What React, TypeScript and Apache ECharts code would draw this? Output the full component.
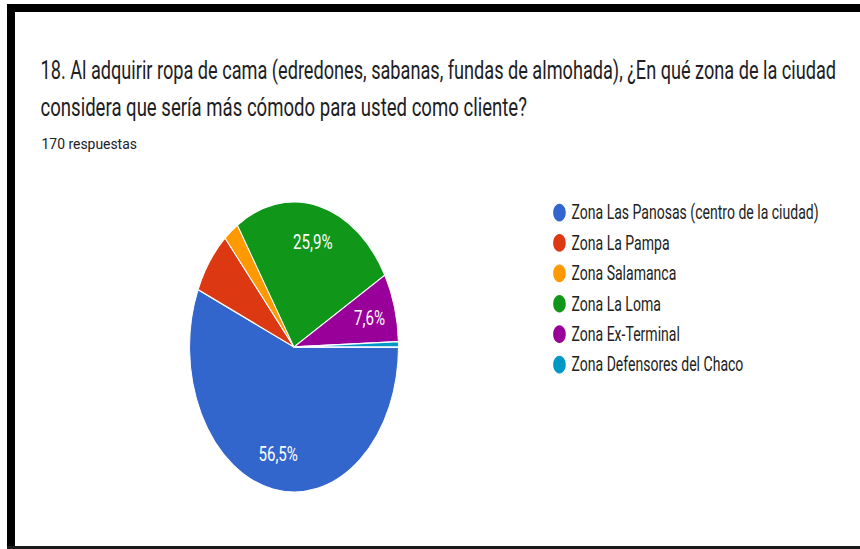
import React, { useEffect, useRef } from 'react';
import * as echarts from 'echarts';

const categories = [
  'Zona Las Panosas (centro de la ciudad)',
  'Zona La Pampa',
  'Zona Salamanca',
  'Zona La Loma',
  'Zona Ex-Terminal',
  'Zona Defensores del Chaco',
];
const responses = [96, 12, 4, 44, 13, 1];
const sliceColors = ['#3366CC', '#DC3912', '#FF9900', '#109618', '#990099', '#0099C6'];
const labelledSlices = ['Zona Las Panosas (centro de la ciudad)', 'Zona La Loma', 'Zona Ex-Terminal'];
const titleLines = [
  '18. Al adquirir ropa de cama (edredones, sabanas, fundas de almohada), ¿En qué zona de la ciudad',
  'considera que sería más cómodo para usted como cliente?',
];
const subtitle = '170 respuestas';

const W = 860;
const H = 549;
const PW = 1194;
const S = W / PW; // horizontal squeeze of the whole picture

function measure(text: string, font: string): number {
  const ctx = document.createElement('canvas').getContext('2d');
  if (!ctx) return text.length * 10;
  ctx.font = font;
  return ctx.measureText(text).width;
}

function squeezedText(text: string, x: number, y: number, size: number, targetWidth: number, fill: string) {
  const natural = measure(text, `${size}px Roboto`);
  const kEff = targetWidth / natural;
  return {
    type: 'text',
    x: x / S,
    y,
    scaleX: kEff / S,
    scaleY: 1,
    style: {
      text,
      fontSize: size,
      fontFamily: 'Roboto',
      fill,
      align: 'left',
      verticalAlign: 'middle',
    },
  };
}

export default function App() {
  const ref = useRef<HTMLDivElement>(null);

  useEffect(() => {
    if (!ref.current) return;
    const chart = echarts.init(ref.current, null, { renderer: 'svg' });
    const pieData = categories.map((name, i) => ({
      name,
      value: responses[i],
      itemStyle: { color: sliceColors[i] },
    }));
    const labelData = categories.map((name, i) => ({
      name,
      value: responses[i],
      label: { show: labelledSlices.includes(name) },
    }));
    const option: any = {
      animation: false,
      backgroundColor: '#ffffff',
      color: sliceColors,
      legend: {
        orient: 'vertical',
        left: 551.7 / S,
        top: 201.8,
        padding: 0,
        data: categories,
        icon: 'circle',
        itemWidth: 19.5,
        itemHeight: 19.5,
        itemGap: 8.9,
        selectedMode: false,
        textStyle: {
          fontFamily: 'Roboto',
          fontSize: 19.5,
          lineHeight: 19.5,
          color: '#222222',
          padding: [0, 0, 0, 2],
        },
      },
      graphic: [
        { type: 'rect', shape: { x: 7 / S, y: 4, width: PW, height: 8 }, style: { fill: '#000000' } },
        { type: 'rect', shape: { x: 7 / S, y: 4, width: 8 / S, height: H }, style: { fill: '#000000' } },
        { type: 'rect', shape: { x: 7 / S, y: 546, width: PW, height: 3 }, style: { fill: '#1a1a1a' } },
        squeezedText(titleLines[0], 40.5, 69.4, 25.5, 796, '#202124'),
        squeezedText(titleLines[1], 40.5, 107.1, 25.5, 486.5, '#202124'),
        squeezedText(subtitle, 41.5, 143.6, 14.5, 95.5, '#202124'),
      ],
      series: [
        {
          type: 'pie',
          center: [294 / S, 347],
          radius: [0, 145],
          startAngle: 0,
          clockwise: true,
          silent: true,
          label: { show: false },
          labelLine: { show: false },
          itemStyle: { borderColor: '#ffffff', borderWidth: 1.3 },
          emphasis: { disabled: true },
          data: pieData,
        },
        {
          type: 'pie',
          center: [294 / S, 347],
          radius: [67, 145],
          startAngle: 0,
          clockwise: true,
          silent: true,
          legendHoverLink: false,
          avoidLabelOverlap: false,
          percentPrecision: 1,
          itemStyle: { color: 'rgba(0,0,0,0)', borderWidth: 0 },
          emphasis: { disabled: true },
          labelLine: { show: false },
          label: {
            show: false,
            position: 'inside',
            color: '#ffffff',
            fontFamily: 'Roboto',
            fontSize: 21,
            formatter: (p: any) => p.percent.toFixed(1).replace('.', ',') + '%',
          },
          data: labelData,
        },
      ],
    };
    chart.setOption(option);
    return () => chart.dispose();
  }, []);

  return (
    <div
      style={{
        position: 'fixed',
        left: 0,
        top: 0,
        width: W,
        height: H,
        overflow: 'hidden',
        background: '#ffffff',
      }}
    >
      <div
        ref={ref}
        style={{ width: PW, height: H, transform: `scaleX(${S})`, transformOrigin: '0 0' }}
      />
    </div>
  );
}
